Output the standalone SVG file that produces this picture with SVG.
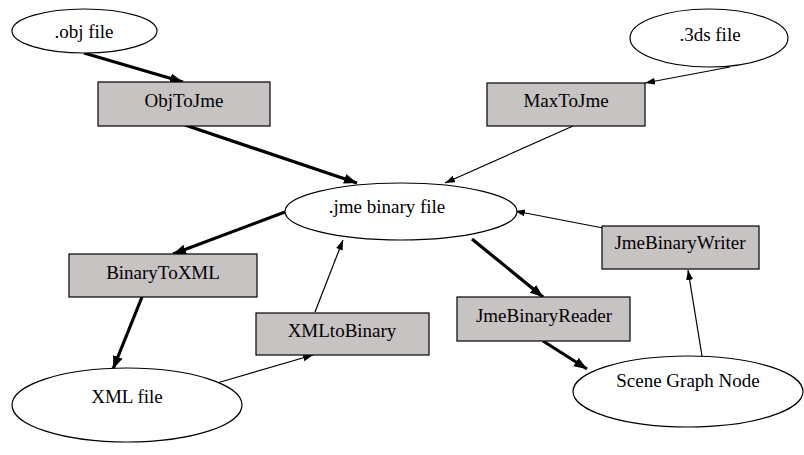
<svg xmlns="http://www.w3.org/2000/svg" width="804" height="455" viewBox="0 0 804 455">
<style>
.bg{fill:#ffffff}
.ell{fill:#ffffff;stroke:#000;stroke-width:1.2}
.box{fill:#c8c3c3;stroke:#000;stroke-width:1.2}
.lbl{font-family:"Liberation Serif","Times New Roman",serif;font-size:19px;fill:#000;text-anchor:middle}
.thick{stroke:#000;stroke-width:3.2;fill:none;marker-end:url(#ah)}
.thin{stroke:#000;stroke-width:1.2;fill:none;marker-end:url(#as)}
</style>
<defs>
<marker id="ah" markerUnits="userSpaceOnUse" markerWidth="14" markerHeight="12" refX="13" refY="5" orient="auto">
<path d="M0,0 L13,5 L0,10 Z" fill="#000"/>
</marker>
<marker id="as" markerUnits="userSpaceOnUse" markerWidth="11" markerHeight="8" refX="10" refY="3.5" orient="auto">
<path d="M0,0 L10,3.5 L0,7 Z" fill="#000"/>
</marker>
</defs>
<rect class="bg" x="0" y="0" width="804" height="455"/>
<g id="connectors">
<line class="thick" x1="84" y1="53" x2="183" y2="82"/>
<line class="thick" x1="185" y1="125" x2="357" y2="183"/>
<line class="thin" x1="730" y1="67" x2="645" y2="83"/>
<line class="thin" x1="573" y1="126" x2="445" y2="183"/>
<line class="thick" x1="285" y1="212" x2="173" y2="254"/>
<line class="thick" x1="142" y1="297" x2="113" y2="369"/>
<line class="thin" x1="217" y1="383" x2="313" y2="355"/>
<line class="thin" x1="315" y1="312" x2="343" y2="240"/>
<line class="thick" x1="472" y1="239" x2="543" y2="297"/>
<line class="thick" x1="543" y1="341" x2="587" y2="369"/>
<line class="thin" x1="702" y1="356" x2="688" y2="270"/>
<line class="thin" x1="603" y1="228" x2="515" y2="211"/>
</g>
<g id="obj_file">
<ellipse class="ell" cx="84.5" cy="31" rx="72.5" ry="22"/>
<text class="lbl" x="84" y="38">.obj file</text>
</g>
<g id="tds_file">
<ellipse class="ell" cx="709" cy="38" rx="79" ry="29"/>
<text class="lbl" x="710" y="41">.3ds file</text>
</g>
<g id="ObjToJme">
<rect class="box" x="98" y="82" width="172" height="44"/>
<text class="lbl" x="184" y="107">ObjToJme</text>
</g>
<g id="MaxToJme">
<rect class="box" x="487" y="83" width="158" height="43"/>
<text class="lbl" x="566" y="107">MaxToJme</text>
</g>
<g id="jme_binary_file">
<ellipse class="ell" cx="401" cy="211.5" rx="116" ry="28.5"/>
<text class="lbl" x="387" y="213">.jme binary file</text>
</g>
<g id="JmeBinaryWriter">
<rect class="box" x="602" y="226" width="157" height="43"/>
<text class="lbl" x="680" y="249">JmeBinaryWriter</text>
</g>
<g id="BinaryToXML">
<rect class="box" x="69" y="254" width="188" height="43"/>
<text class="lbl" x="163" y="279">BinaryToXML</text>
</g>
<g id="XMLtoBinary">
<rect class="box" x="256" y="313" width="173" height="42"/>
<text class="lbl" x="342" y="337">XMLtoBinary</text>
</g>
<g id="JmeBinaryReader">
<rect class="box" x="457" y="297" width="173" height="44"/>
<text class="lbl" x="544" y="322">JmeBinaryReader</text>
</g>
<g id="XML_file">
<ellipse class="ell" cx="127" cy="405" rx="115" ry="37"/>
<text class="lbl" x="127" y="403">XML file</text>
</g>
<g id="Scene_Graph_Node">
<ellipse class="ell" cx="688" cy="391.5" rx="115" ry="35.5"/>
<text class="lbl" x="688" y="387">Scene Graph Node</text>
</g>
</svg>
